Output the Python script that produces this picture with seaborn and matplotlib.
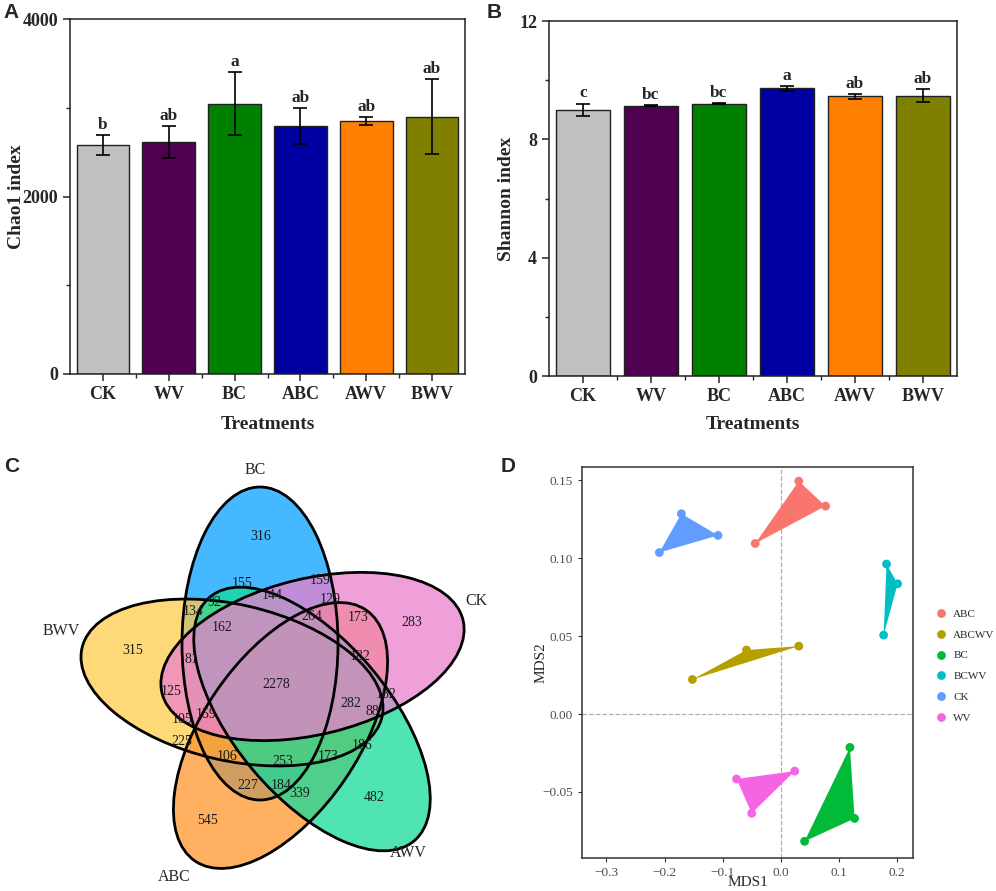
import numpy as np
import pandas as pd
import matplotlib
matplotlib.use('Agg')
import matplotlib.pyplot as plt
from matplotlib.patches import Ellipse
from matplotlib.ticker import MultipleLocator, FixedLocator, FuncFormatter
import seaborn as sns

# -------------------------
# Data
# -------------------------
treatments = ['CK', 'WV', 'BC', 'ABC', 'AWV', 'BWV']
bar_colors = ['#C0C0C0', '#500050', '#008000', '#0000A0', '#FF8000', '#808000']

chao1_mean = [2580, 2615, 3045, 2795, 2850, 2900]
chao1_sd = [112, 176, 355, 200, 49, 420]
chao1_letters = ['b', 'ab', 'a', 'ab', 'ab', 'ab']

shannon_mean = [9.00, 9.14, 9.20, 9.73, 9.45, 9.48]
shannon_sd = [0.21, 0.03, 0.02, 0.08, 0.07, 0.21]
shannon_letters = ['c', 'bc', 'bc', 'a', 'ab', 'ab']

# Venn: set names and region counts
venn_sets = ['BC', 'BWV', 'ABC', 'AWV', 'CK']
venn_counts = [316, 155, 159, 144, 129, 92, 134, 264, 173, 283, 162, 315,
               81, 182, 2278, 125, 182, 282, 88, 159, 105, 225, 186, 106,
               253, 173, 227, 184, 339, 482, 545]

# NMDS
nmds_group = ['ABC'] * 3 + ['ABCWV'] * 3 + ['BC'] * 3 + ['BCWV'] * 3 + ['CK'] * 3 + ['WV'] * 3
nmds_x = [0.031, 0.077, -0.044,
          -0.059, 0.031, -0.152,
          0.119, 0.127, 0.041,
          0.182, 0.201, 0.177,
          -0.171, -0.108, -0.209,
          -0.076, 0.024, -0.050]
nmds_y = [0.1495, 0.1335, 0.1095,
          0.0411, 0.0436, 0.0222,
          -0.0214, -0.0670, -0.0817,
          0.0963, 0.0836, 0.0507,
          0.1286, 0.1147, 0.1037,
          -0.0417, -0.0366, -0.0637]
nmds_palette = ['#F8766D', '#B79F00', '#00BA38', '#00BFC4', '#619CFF', '#F564E3']

# -------------------------
# Layout (pixel coordinates of panel C, y downward)
# -------------------------
venn_colors = ['#07A0FF', '#FFCB4B', '#FF962B', '#16DA9B', '#EB80CC']
venn_alpha = 0.75
venn_ends = [((260, 487), (260, 800)),   # BC
             ((82, 648), (382, 717)),    # BWV
             ((195, 861), (366, 610)),   # ABC
             ((414, 841), (210, 597)),   # AWV
             ((463, 620), (162, 693))]   # CK
venn_minor = 78
venn_name_xy = [(255, 470), (61, 631), (174, 877), (408, 853), (476, 601)]
venn_label_xy = [(261, 537), (242, 584), (320, 581), (272, 596), (330, 600),
                 (215, 603), (193, 612), (312, 617), (358, 618), (412, 623),
                 (222, 628), (133, 651), (191, 660), (360, 657), (276, 685),
                 (171, 692), (386, 695), (351, 704), (372, 712), (206, 715),
                 (182, 720), (182, 742), (362, 746), (227, 757), (283, 762),
                 (328, 757), (248, 786), (281, 786), (300, 794), (374, 798),
                 (208, 821)]

W, H = 996, 891

sns.set_style('ticks')
plt.rcParams['font.family'] = ['Liberation Serif', 'DejaVu Serif']


def px_rect(left, top, right, bottom):
    return [left / W, 1 - bottom / H, (right - left) / W, (bottom - top) / H]


def minus_fmt(decimals):
    return FuncFormatter(lambda v, p: f'{v:.{decimals}f}'.replace('-', '\u2212'))


def bar_panel(ax, means, sds, letters, ymax, major, minor, ylabel, ylab_x, xlab_y):
    df = pd.DataFrame({'Treatments': treatments, 'value': means})
    sns.barplot(data=df, x='Treatments', y='value', hue='Treatments',
                palette=bar_colors, saturation=1, width=0.8, edgecolor='#202020',
                linewidth=1.0, legend=False, ax=ax)
    pos = np.arange(len(treatments))
    ax.errorbar(pos, means, yerr=sds, fmt='none', ecolor='black',
                elinewidth=1.2, capsize=5, capthick=1.2, zorder=5)
    for i, (m, s, lab) in enumerate(zip(means, sds, letters)):
        ax.annotate(lab, (i, m + s), xytext=(0, 1.5), textcoords='offset points',
                    ha='center', va='bottom', fontsize=12.5, fontweight='bold')
    ax.set_xlim(-0.5, len(treatments) - 0.5)
    ax.set_ylim(0, ymax)
    ax.yaxis.set_major_locator(MultipleLocator(major))
    ax.yaxis.set_minor_locator(MultipleLocator(minor))
    ax.xaxis.set_minor_locator(FixedLocator(pos[:-1] + 0.5))
    ax.tick_params(axis='both', which='major', direction='out', length=5,
                   width=1.1, labelsize=13)
    ax.tick_params(axis='both', which='minor', direction='out', length=3, width=1.0)
    for lbl in ax.get_xticklabels() + ax.get_yticklabels():
        lbl.set_fontweight('bold')
    for sp in ax.spines.values():
        sp.set_visible(True)
        sp.set_linewidth(1.1)
        sp.set_color('#202020')
    ax.set_xlabel('Treatments', fontsize=14, fontweight='bold')
    ax.set_ylabel(ylabel, fontsize=14, fontweight='bold')
    ax.xaxis.set_label_coords(0.5, xlab_y)
    ax.yaxis.set_label_coords(ylab_x, 0.5)


fig = plt.figure(figsize=(W / 100, H / 100), dpi=100)

# -------------------------
# A: Chao1
# -------------------------
axA = fig.add_axes(px_rect(70, 19, 465, 374))
bar_panel(axA, chao1_mean, chao1_sd, chao1_letters, 4000, 2000, 1000,
          'Chao1 index', -0.115, -0.118)

# -------------------------
# B: Shannon
# -------------------------
axB = fig.add_axes(px_rect(549, 21, 957, 376))
bar_panel(axB, shannon_mean, shannon_sd, shannon_letters, 12, 4, 2,
          'Shannon index', -0.083, -0.112)

# -------------------------
# C: Venn
# -------------------------
axC = fig.add_axes([0, 0, 498 / W, 471 / H])
axC.set_xlim(0, 498)
axC.set_ylim(891, 420)
axC.axis('off')
shapes = []
for (p1, p2) in venn_ends:
    cx, cy = (p1[0] + p2[0]) / 2, (p1[1] + p2[1]) / 2
    length = np.hypot(p2[0] - p1[0], p2[1] - p1[1])
    ang = np.degrees(np.arctan2(p2[1] - p1[1], p2[0] - p1[0]))
    shapes.append(((cx, cy), length, ang))
for ((cx, cy), length, ang), col in zip(shapes, venn_colors):
    axC.add_patch(Ellipse((cx, cy), length, 2 * venn_minor, angle=ang,
                          facecolor=col, alpha=venn_alpha, edgecolor='none'))
for (cx, cy), length, ang in shapes:
    axC.add_patch(Ellipse((cx, cy), length, 2 * venn_minor, angle=ang,
                          facecolor='none', edgecolor='black', linewidth=2.0))
for n, (x, y) in zip(venn_counts, venn_label_xy):
    axC.text(x, y, str(n), ha='center', va='center', fontsize=10, color='#1a1a1a')
for name, (x, y) in zip(venn_sets, venn_name_xy):
    axC.text(x, y, name, ha='center', va='center', fontsize=11.5)

# -------------------------
# D: NMDS
# -------------------------
axD = fig.add_axes(px_rect(582, 467, 913, 858))
nmds = pd.DataFrame({'group': nmds_group, 'MDS1': nmds_x, 'MDS2': nmds_y})
groups = list(dict.fromkeys(nmds_group))
axD.axhline(0, color='#B0B0B0', linestyle='--', linewidth=0.9, zorder=0)
axD.axvline(0, color='#B0B0B0', linestyle='--', linewidth=0.9, zorder=0)
for g, col in zip(groups, nmds_palette):
    sub = nmds[nmds['group'] == g]
    axD.fill(sub['MDS1'], sub['MDS2'], color=col, linewidth=0, zorder=1)
sns.scatterplot(data=nmds, x='MDS1', y='MDS2', hue='group', hue_order=groups,
                palette=nmds_palette, s=40, edgecolor='none', ax=axD, zorder=2)
axD.set_xlim(-0.342, 0.2275)
axD.set_ylim(-0.0924, 0.1586)
axD.xaxis.set_major_locator(FixedLocator([-0.3, -0.2, -0.1, 0.0, 0.1, 0.2]))
axD.yaxis.set_major_locator(FixedLocator([-0.05, 0.0, 0.05, 0.10, 0.15]))
axD.xaxis.set_major_formatter(minus_fmt(1))
axD.yaxis.set_major_formatter(minus_fmt(2))
axD.tick_params(axis='both', direction='out', length=3, width=0.8,
                color='#333333', labelcolor='#4D4D4D', labelsize=9.5)
for sp in axD.spines.values():
    sp.set_visible(True)
    sp.set_color('#333333')
    sp.set_linewidth(1.1)
axD.set_xlabel('MDS1', fontsize=11)
axD.set_ylabel('MDS2', fontsize=11)
axD.xaxis.set_label_coords(0.5, -0.045)
axD.yaxis.set_label_coords(-0.105, 0.5)
sns.move_legend(axD, 'center left', bbox_to_anchor=(1.068, 0.491), frameon=False,
                title=None, fontsize=8, handlelength=1.0, handletextpad=0.6,
                labelspacing=1.0, borderpad=0, borderaxespad=0, markerscale=1.0)

# panel letters
for lab, (x, y) in zip(['A', 'B', 'C', 'D'], [(11, 13), (494, 13), (12, 467), (508, 467)]):
    fig.text(x / W, 1 - y / H, lab, fontsize=15, fontweight='bold',
             family='Liberation Sans', ha='center', va='center')

fig.savefig('out.png', dpi=100)
